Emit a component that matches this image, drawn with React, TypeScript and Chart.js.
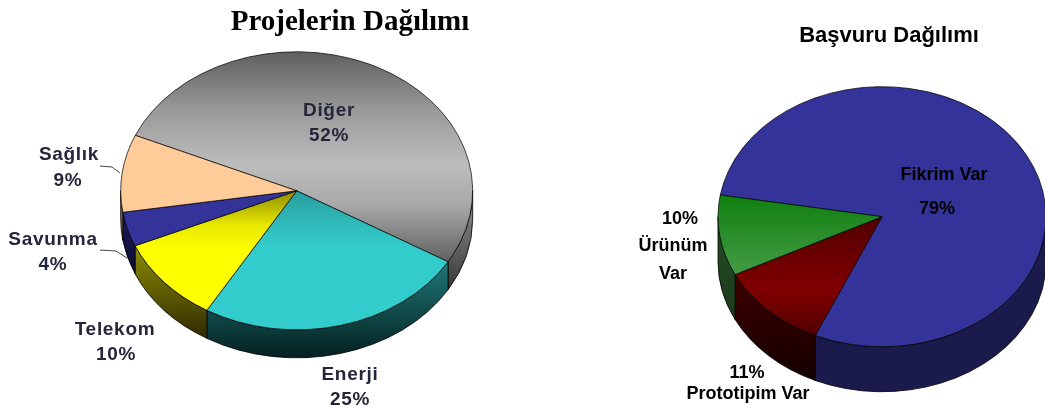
import React, { useEffect, useRef } from "react";
import { Chart, registerables } from "chart.js";

Chart.register(...registerables);

const projectCategories = ["Diğer", "Enerji", "Telekom", "Savunma", "Sağlık"];
const projectValues = [52, 25, 10, 4, 9];
const applicationCategories = ["Fikrim Var", "Prototipim Var", "Ürünüm Var"];
const applicationValues = [79, 11, 10];

type Stops = [number, string][];
type Line = { text: string; x: number; y: number };

const projectTop: Stops[] = [
  [[52, "#5f5f5f"], [110, "#999999"], [165, "#bdbdbd"], [205, "#a8a8a8"], [280, "#4a4a4a"]],
  [[190, "#2a9c9c"], [245, "#33cccc"], [330, "#33cccc"]],
  [[190, "#8a8a00"], [225, "#e8e800"], [250, "#ffff00"], [310, "#ffff00"]],
  [[190, "#333399"], [245, "#333399"]],
  [[136, "#ffcc99"], [210, "#ffcc99"]],
];
const projectSide: Stops[] = [
  [[220, "#7a7a7a"], [285, "#3c3c3c"]],
  [[260, "#1f7a7a"], [358, "#052020"]],
  [[245, "#8f8f00"], [338, "#2f2a00"]],
  [[210, "#1d1d60"], [270, "#0c0c30"]],
  [[200, "#8a6e52"], [240, "#6a5240"]],
];
const applicationTop: Stops[] = [
  [[80, "#333399"], [350, "#333399"]],
  [[216, "#520000"], [290, "#800000"], [340, "#4d0000"]],
  [[195, "#0f7f0f"], [275, "#459c45"]],
];
const applicationSide: Stops[] = [
  [[240, "#1a1a4d"], [395, "#1a1a4d"]],
  [[275, "#3d0000"], [380, "#150000"]],
  [[230, "#214a21"], [320, "#1c3a1c"]],
];

const lp = (c: string[], v: number[], i: number) => [c[i], `${v[i]}%`];
const [dA, dB] = lp(projectCategories, projectValues, 0);
const [eA, eB] = lp(projectCategories, projectValues, 1);
const [tA, tB] = lp(projectCategories, projectValues, 2);
const [vA, vB] = lp(projectCategories, projectValues, 3);
const [sA, sB] = lp(projectCategories, projectValues, 4);
const [fA, fB] = lp(applicationCategories, applicationValues, 0);
const [pA, pB] = lp(applicationCategories, applicationValues, 1);
const [uA, uB] = lp(applicationCategories, applicationValues, 2);

const projectLines: Line[] = [
  { text: dA, x: 329, y: 111 }, { text: dB, x: 329, y: 136 },
  { text: eA, x: 350, y: 375 }, { text: eB, x: 350, y: 400 },
  { text: tA, x: 115, y: 330 }, { text: tB, x: 116, y: 355 },
  { text: vA, x: 53, y: 240 }, { text: vB, x: 53, y: 265 },
  { text: sA, x: 69, y: 155 }, { text: sB, x: 68, y: 181 },
];
const applicationLines: Line[] = [
  { text: fA, x: 944, y: 175 }, { text: fB, x: 937, y: 209 },
  { text: pB, x: 747, y: 373 }, { text: pA, x: 748, y: 394 },
  { text: uB, x: 680, y: 219 }, { text: uA.split(" ")[0], x: 673, y: 246 }, { text: uA.split(" ")[1], x: 673, y: 274 },
];

type Spec = {
  left: number; width: number; cx: number; cy: number; r: number; ratio: number; depth: number;
  rotation: number; categories: string[]; values: number[]; top: Stops[]; side: Stops[];
  title: string; titleFont: any; titleTop: number; lines: Line[]; font: string; textColor: string;
  leaders: number[][]; letterSpacing: string; textBlur: string;
};

const specs: Spec[] = [
  {
    left: 0, width: 700, cx: 296.7, cy: 190.8, r: 176, ratio: 0.79, depth: 28, rotation: 293.5,
    categories: projectCategories, values: projectValues, top: projectTop, side: projectSide,
    title: "Projelerin Dağılımı", titleFont: { family: "'Liberation Serif'", size: 29, weight: "bold" }, titleTop: 5,
    lines: projectLines, font: "bold 19px 'Liberation Sans'", textColor: "#26263a", letterSpacing: "0.7px", textBlur: "blur(0.4px)",
    leaders: [[100, 166, 112, 167, 120, 173], [100, 250, 116, 251, 127, 258]],
  },
  {
    left: 522, width: 734, cx: 882, cy: 216.7, r: 164, ratio: 0.793, depth: 45, rotation: 279.6,
    categories: applicationCategories, values: applicationValues, top: applicationTop, side: applicationSide,
    title: "Başvuru Dağılımı", titleFont: { family: "'Liberation Sans'", size: 22, weight: "bold" }, titleTop: 23,
    lines: applicationLines, font: "bold 18px 'Liberation Sans'", textColor: "#000000", letterSpacing: "0px", textBlur: "none",
    leaders: [],
  },
];

const H = 412;

function PieCanvas({ spec }: { spec: Spec }) {
  const ref = useRef<HTMLCanvasElement>(null);
  useEffect(() => {
    const bw = 0.8;
    const localCx = spec.cx - spec.left;
    const gradient = (ctx: CanvasRenderingContext2D, stops: Stops, map: (y: number) => number) => {
      const y0 = stops[0][0];
      const y1 = stops[stops.length - 1][0];
      const g = ctx.createLinearGradient(0, map(y0), 0, map(y1));
      stops.forEach(([y, c]) => g.addColorStop((y - y0) / (y1 - y0), c));
      return g;
    };
    const solid3d = {
      id: "solid3d",
      beforeDatasetsDraw(chart: any) {
        const ctx = chart.ctx as CanvasRenderingContext2D;
        const arcs = chart.getDatasetMeta(0).data;
        const first = arcs[0];
        const ry = first.outerRadius * spec.ratio;
        ctx.save();
        arcs.forEach((arc: any, i: number) => {
          for (let k = -1; k <= 2; k++) {
            const a0 = Math.max(arc.startAngle, k * 2 * Math.PI);
            const a1 = Math.min(arc.endAngle, k * 2 * Math.PI + Math.PI);
            if (a1 <= a0) continue;
            ctx.beginPath();
            ctx.ellipse(localCx, spec.cy, arc.outerRadius, ry, 0, a0, a1);
            ctx.ellipse(localCx, spec.cy + spec.depth, arc.outerRadius, ry, 0, a1, a0, true);
            ctx.closePath();
            ctx.fillStyle = gradient(ctx, spec.side[i], (y) => y);
            ctx.fill();
            ctx.lineWidth = 0.8;
            ctx.strokeStyle = "#000000";
            ctx.stroke();
          }
        });
        ctx.restore();
        ctx.save();
        ctx.translate(localCx - first.x, spec.cy - first.y * spec.ratio);
        ctx.scale(1, spec.ratio);
      },
      afterDatasetsDraw(chart: any) {
        const ctx = chart.ctx as CanvasRenderingContext2D;
        ctx.restore();
        ctx.save();
        ctx.font = spec.font;
        (ctx as any).letterSpacing = spec.letterSpacing;
        ctx.filter = spec.textBlur;
        ctx.fillStyle = spec.textColor;
        ctx.textAlign = "center";
        ctx.textBaseline = "middle";
        spec.lines.forEach((l) => ctx.fillText(l.text, l.x - spec.left, l.y));
        ctx.filter = "none";
        ctx.strokeStyle = "#444444";
        ctx.lineWidth = 1;
        spec.leaders.forEach((p) => {
          ctx.beginPath();
          ctx.moveTo(p[0] - spec.left, p[1]);
          for (let j = 2; j < p.length; j += 2) ctx.lineTo(p[j] - spec.left, p[j + 1]);
          ctx.stroke();
        });
        ctx.restore();
      },
    };
    const side = (spec.width - 2 * spec.r - bw) / 2;
    const chart = new Chart(ref.current!, {
      type: "pie",
      plugins: [solid3d],
      data: {
        labels: spec.categories,
        datasets: [
          {
            data: spec.values,
            clip: false,
            borderColor: "#000000",
            borderWidth: bw,
            backgroundColor: (c: any) => {
              const area = c.chart.chartArea;
              if (!area) return "#888888";
              const stops = spec.top[c.dataIndex];
              const ay = (area.top + area.bottom) / 2;
              return gradient(c.chart.ctx, stops, (y) => ay + (y - spec.cy) / spec.ratio);
            },
          } as any,
        ],
      },
      options: {
        responsive: false,
        animation: false,
        devicePixelRatio: 1,
        rotation: spec.rotation,
        layout: { padding: { left: side, right: side, top: 0, bottom: 0 } },
        plugins: {
          legend: { display: false },
          tooltip: { enabled: false },
          title: {
            display: true,
            text: spec.title,
            color: "#000000",
            font: spec.titleFont,
            padding: { top: spec.titleTop, bottom: 0 },
          },
        },
      } as any,
    });
    return () => chart.destroy();
  }, [spec]);
  return (
    <canvas
      ref={ref}
      width={spec.width}
      height={H}
      style={{ position: "absolute", left: spec.left, top: 0, width: spec.width, height: H }}
    />
  );
}

export default function App() {
  return (
    <div style={{ position: "absolute", left: 0, top: 0, width: 1045, height: H, overflow: "hidden", background: "#ffffff" }}>
      {specs.map((s) => (
        <PieCanvas key={s.title} spec={s} />
      ))}
    </div>
  );
}
